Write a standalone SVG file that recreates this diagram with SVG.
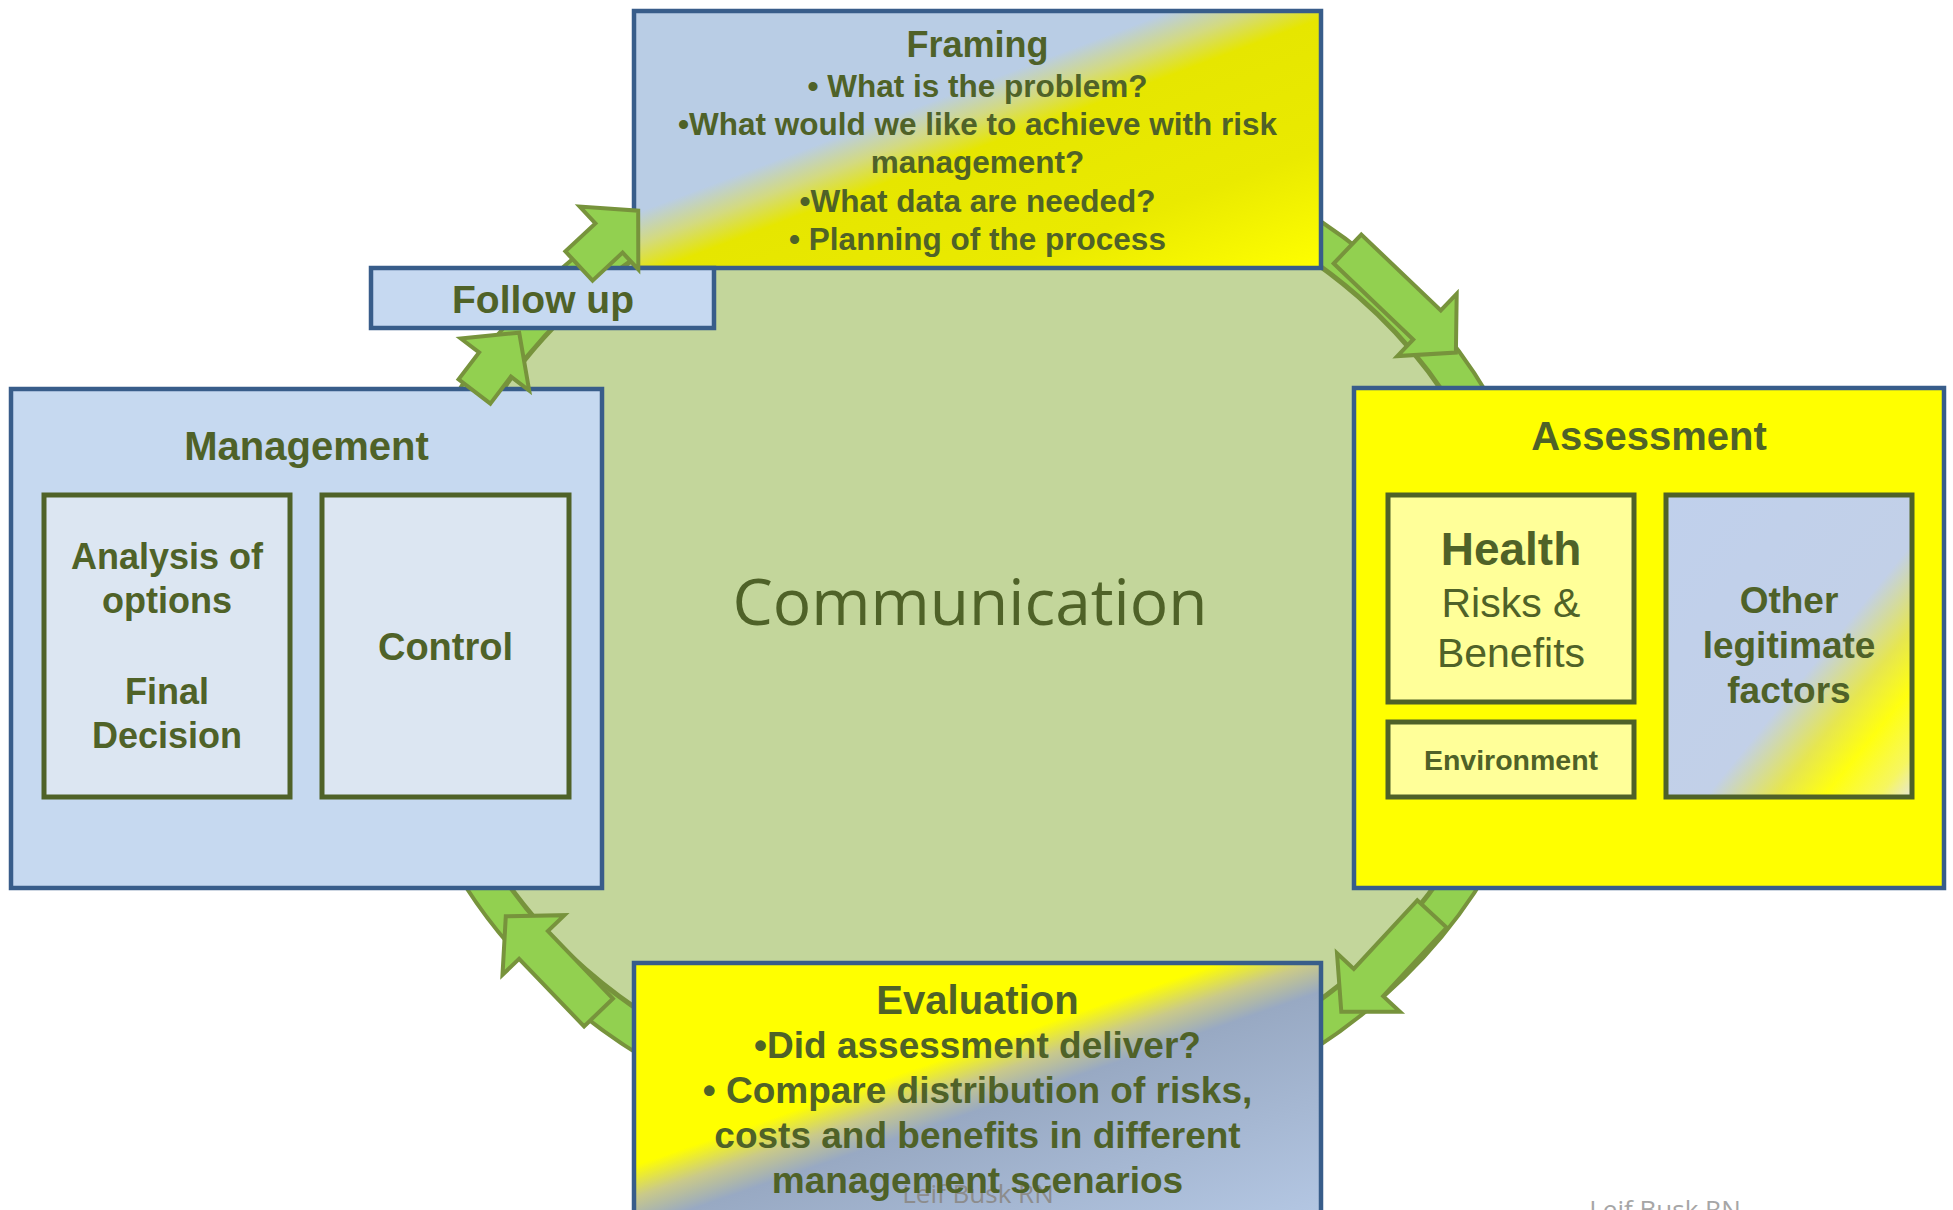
<svg xmlns="http://www.w3.org/2000/svg" width="1953" height="1210" viewBox="0 0 1953 1210">
<defs>
<style>
.box{stroke:#385D8A;stroke-width:4.5}
.inner{stroke:#4F6228;stroke-width:5}
.t{font-family:"Liberation Sans",Arial,sans-serif;font-weight:bold;fill:#4F6228;text-anchor:middle}
.r{font-family:"Liberation Sans",Arial,sans-serif;font-weight:normal;fill:#4F6228;text-anchor:middle}
.arrow{fill:#92D050;stroke:#77933C;stroke-width:4;stroke-linejoin:miter}
.wm{font-family:"Open Sans",sans-serif;text-anchor:middle}
</style>
<linearGradient id="gFraming" gradientUnits="userSpaceOnUse" x1="813" y1="-162" x2="1025" y2="400">
<stop offset="0" stop-color="#B9CDE5"/>
<stop offset="0.48" stop-color="#B9CDE5"/>
<stop offset="0.53" stop-color="#D3DA80"/>
<stop offset="0.58" stop-color="#E6E600"/>
<stop offset="0.78" stop-color="#EAEA00"/>
<stop offset="0.97" stop-color="#FFFF00"/>
</linearGradient>
<linearGradient id="gEval" gradientUnits="userSpaceOnUse" x1="862" y1="795" x2="1058" y2="1362">
<stop offset="0" stop-color="#FFFF00"/>
<stop offset="0.46" stop-color="#FFFF00"/>
<stop offset="0.51" stop-color="#C9C98A"/>
<stop offset="0.56" stop-color="#98A9C3"/>
<stop offset="0.9" stop-color="#B3C6E2"/>
<stop offset="1" stop-color="#B8CBE6"/>
</linearGradient>
<linearGradient id="gOther" x1="0" y1="0" x2="1" y2="1">
<stop offset="0" stop-color="#C0D0EC"/>
<stop offset="0.58" stop-color="#C2D0E8"/>
<stop offset="0.72" stop-color="#E6E650"/>
<stop offset="0.82" stop-color="#FFFF10"/>
<stop offset="0.93" stop-color="#F6F660"/>
<stop offset="1" stop-color="#E6E6D8"/>
</linearGradient>
</defs>
<rect width="1953" height="1210" fill="#FFFFFF"/>

<g id="communication">
<ellipse cx="972" cy="633" rx="582" ry="514" fill="#92D050" stroke="#77933C" stroke-width="4"/>
<ellipse cx="972" cy="633" rx="546" ry="476" fill="#C3D69B" stroke="#77933C" stroke-width="5"/>
<text x="970" y="625" font-family="'Open Sans',sans-serif" font-size="64" fill="#4F6228" text-anchor="middle">Communication</text>
</g>

<g id="framing">
<rect class="box" x="634" y="11" width="687" height="257" fill="url(#gFraming)"/>
<text class="t" x="977.5" y="57" font-size="36">Framing</text>
<text class="t" x="977.5" y="97" font-size="31.5">• What is the problem?</text>
<text class="t" x="977.5" y="135" font-size="31.5">•What would we like to achieve with risk</text>
<text class="t" x="977.5" y="173" font-size="31.5">management?</text>
<text class="t" x="977.5" y="212" font-size="31.5">•What data are needed?</text>
<text class="t" x="977.5" y="250" font-size="31.5">• Planning of the process</text>
</g>

<g id="follow-up">
<rect class="box" x="371" y="268" width="343" height="60" fill="#C6D9F1"/>
<text class="t" x="543" y="313" font-size="39">Follow up</text>
</g>

<g id="management">
<rect class="box" x="11" y="389" width="591" height="499" fill="#C6D9F0"/>
<text class="t" x="306.5" y="460" font-size="40">Management</text>
<g id="analysis">
<rect class="inner" x="44" y="495" width="246" height="302" fill="#DCE6F2"/>
<text class="t" x="167" y="569" font-size="36">Analysis of</text>
<text class="t" x="167" y="613" font-size="36">options</text>
<text class="t" x="167" y="704" font-size="36">Final</text>
<text class="t" x="167" y="748" font-size="36">Decision</text>
</g>
<g id="control">
<rect class="inner" x="322" y="495" width="247" height="302" fill="#DCE6F2"/>
<text class="t" x="445.5" y="660" font-size="38">Control</text>
</g>
</g>

<g id="assessment">
<rect class="box" x="1354" y="388" width="590" height="500" fill="#FFFF00"/>
<text class="t" x="1649" y="450" font-size="40">Assessment</text>
<g id="health">
<rect class="inner" x="1388" y="495" width="246" height="207" fill="#FFFF99"/>
<text class="t" x="1511" y="565" font-size="46">Health</text>
<text class="r" x="1511" y="617" font-size="41">Risks &amp;</text>
<text class="r" x="1511" y="667" font-size="41">Benefits</text>
</g>
<g id="environment">
<rect class="inner" x="1388" y="722" width="246" height="75" fill="#FFFF99"/>
<text class="t" x="1511" y="770" font-size="28.5">Environment</text>
</g>
<g id="other">
<rect class="inner" x="1666" y="495" width="246" height="302" fill="url(#gOther)"/>
<text class="t" x="1789" y="613" font-size="37">Other</text>
<text class="t" x="1789" y="658" font-size="37">legitimate</text>
<text class="t" x="1789" y="703" font-size="37">factors</text>
</g>
</g>

<g id="evaluation">
<rect class="box" x="634" y="963" width="687" height="260" fill="url(#gEval)"/>
<text class="wm" x="978" y="1203" font-size="26" fill="#8C8C8C">Leif Busk RN</text>
<text class="t" x="977.5" y="1014" font-size="40">Evaluation</text>
<text class="t" x="977.5" y="1058" font-size="37">•Did assessment deliver?</text>
<text class="t" x="977.5" y="1103" font-size="37">• Compare distribution of risks,</text>
<text class="t" x="977.5" y="1148" font-size="37">costs and benefits in different</text>
<text class="t" x="977.5" y="1193" font-size="37">management scenarios</text>
</g>

<g id="connectors">
<polygon class="arrow" points="1333.7,263.5 1413.2,339.5 1397.3,356.1 1455.9,352.6 1456.7,293.9 1440.8,310.5 1361.3,234.5"/>
<polygon class="arrow" points="1417.3,900.4 1353.8,968.9 1337,953.3 1341.3,1011.8 1400,1011.7 1383.2,996.1 1446.7,927.6"/>
<polygon class="arrow" points="612.9,998.6 547.9,931.1 564.5,915.2 505.8,916.2 502.5,974.8 519.1,958.9 584.1,1026.4"/>
<polygon class="arrow" points="490.4,403.6 510.9,376.6 529.2,390.5 519.2,332.7 460.8,338.5 479.1,352.4 458.6,379.4"/>
<polygon class="arrow" points="592.6,280.6 622.6,252.6 638.3,269.4 638.2,210.7 579.7,206.6 595.4,223.4 565.4,251.4"/>
</g>

<text class="wm" x="1665" y="1219" font-size="26" fill="#A6A6A6">Leif Busk RN</text>
</svg>
